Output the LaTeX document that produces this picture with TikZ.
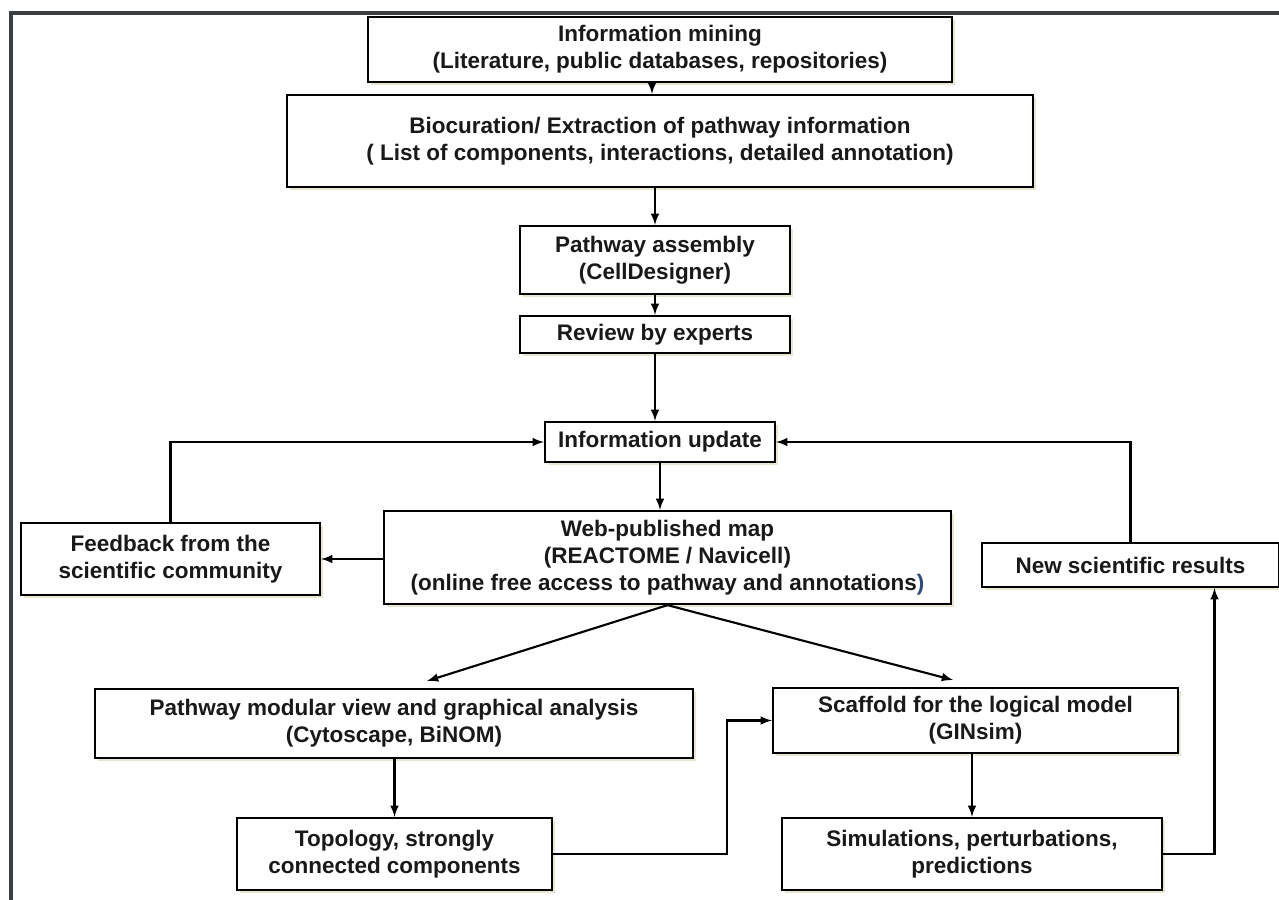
\documentclass[tikz,border=0pt]{standalone}
\usepackage{fontspec}
\setmainfont{Liberation Sans}
\usetikzlibrary{calc,shadows}
\definecolor{FrameGray}{HTML}{3C3F42}
\definecolor{ShadowTan}{HTML}{D8D4B0}
\definecolor{ParenBlue}{HTML}{2E4A80}
\tikzstyle{StepNode}=[rectangle, draw=black, line width=1.3pt, fill=white, align=center, inner sep=2pt, font=\bfseries\fontsize{12.8}{15.4}\selectfont, text=black!90, drop shadow={shadow xshift=1.5pt, shadow yshift=-1.5pt, fill=ShadowTan, opacity=0.6}]
\tikzstyle{FlowEdge}=[->, line width=1.2pt]
\tikzset{>=latex}

\begin{document}
\begin{tikzpicture}[x=0.02cm, y=-0.02cm]
\useasboundingbox (0,0) rectangle (1279,900);
\fill[FrameGray] (9,11) rectangle (1279,15);
\fill[FrameGray] (9,11) rectangle (13,900);

\node[StepNode, minimum width=11.68cm, minimum height=1.3cm](Mining) at (660,49.5) {Information mining\\(Literature, public databases, repositories)};
\node[StepNode, minimum width=14.92cm, minimum height=1.84cm](Curation) at (660,141) {Biocuration/ Extraction of pathway information\\( List of components, interactions, detailed annotation)};
\node[StepNode, minimum width=5.4cm, minimum height=1.36cm](Assembly) at (655,260) {Pathway assembly\\(CellDesigner)};
\node[StepNode, minimum width=5.4cm, minimum height=0.74cm](Review) at (655,334.5) {Review by experts};
\node[StepNode, minimum width=4.6cm, minimum height=0.8cm](Update) at (660,442) {Information update};
\node[StepNode, minimum width=11.34cm, minimum height=1.86cm](WebMap) at (667.5,557.5) {Web-published map\\(REACTOME / Navicell)\\(online free access to pathway and annotations\textcolor{ParenBlue}{)}};
\node[StepNode, minimum width=5.98cm, minimum height=1.44cm](Feedback) at (170.5,559) {Feedback from the\\scientific community};
\node[StepNode, minimum width=5.94cm, minimum height=0.88cm](NewResults) at (1130.5,565) {New scientific results};
\node[StepNode, minimum width=11.96cm, minimum height=1.38cm](Modular) at (394,723.5) {Pathway modular view and graphical analysis\\(Cytoscape, BiNOM)};
\node[StepNode, minimum width=8.1cm, minimum height=1.3cm](Scaffold) at (975.5,720.5) {Scaffold for the logical model\\(GINsim)};
\node[StepNode, minimum width=6.3cm, minimum height=1.44cm](Topology) at (394.5,854) {Topology, strongly\\connected components};
\node[StepNode, minimum width=7.6cm, minimum height=1.44cm](Simulation) at (972,854) {Simulations, perturbations,\\predictions};

\coordinate (ModTip) at (427,681);
\coordinate (ScafTip) at (953,680);

\draw[FlowEdge](Mining.south -| 652,0) -- (Curation.north -| 652,0);
\draw[FlowEdge](Assembly.north |- Curation.south) -- (Assembly.north);
\draw[FlowEdge](Assembly) -- (Review);
\draw[FlowEdge](Review.south) -- (Review.south |- Update.north);
\draw[FlowEdge](Update.south) -- (Update.south |- WebMap.north);
\draw[FlowEdge](WebMap.west |- Feedback.east) -- (Feedback.east);
\draw[FlowEdge](Feedback.north) |- (Update.west);
\draw[FlowEdge](NewResults.north) |- (Update.east);
\draw[FlowEdge](WebMap.south) -- (ModTip);
\draw[FlowEdge](WebMap.south) -- (ScafTip);
\draw[FlowEdge](Topology.north |- Modular.south) -- (Topology.north);
\draw[FlowEdge](Topology.east) -- ++(174,0) |- (Scaffold.west);
\draw[FlowEdge](Simulation.north |- Scaffold.south) -- (Simulation.north);
\draw[FlowEdge](Simulation.east) -| ($(NewResults.south)+(84,0)$);
\end{tikzpicture}
\end{document}
